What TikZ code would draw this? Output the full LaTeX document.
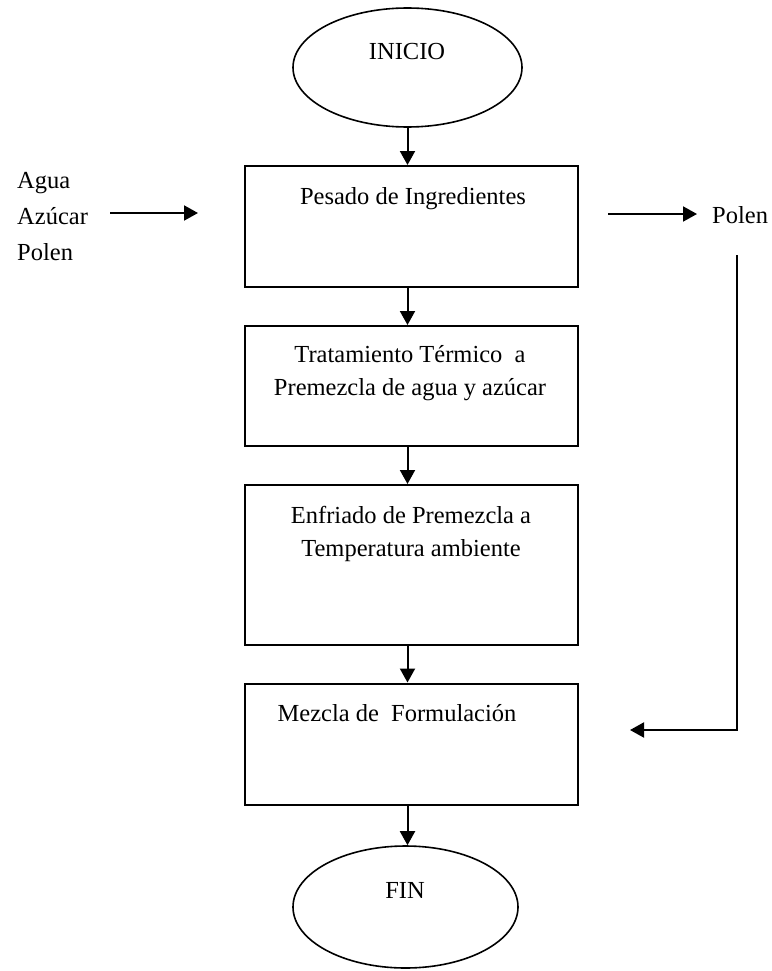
\documentclass[tikz,border=0pt]{standalone}
\usepackage{fontspec}
\setmainfont{Liberation Serif}
\usepackage{tikz}
\usetikzlibrary{shapes.geometric,arrows.meta}

\begin{document}
\begin{tikzpicture}[x=1pt,y=-1pt,
			every node/.style={font=\fontsize{24.5}{33}\selectfont},
			terminal/.style={ellipse,draw,line width=1.6pt,minimum width=229pt,minimum height=119pt,inner sep=0pt},
			proceso/.style={rectangle,draw,line width=2pt,minimum width=333pt,inner sep=0pt},
			texto/.style={anchor=base,align=center,inner sep=0pt},
			flecha/.style={line width=2pt,-{Triangle[length=14pt,width=15pt]}}]
		\useasboundingbox (0,0) rectangle (771,971);
		% etapas
		\node[terminal] (inicio) at (407.5,67.5) {};
		\node[proceso,minimum height=121pt] (pesado) at (411.5,226.5) {};
		\node[proceso,minimum height=120pt] (termico) at (411.5,386) {};
		\node[proceso,minimum height=160pt] (enfriado) at (411.5,565) {};
		\node[proceso,minimum height=121pt] (mezcla) at (411.5,744) {};
		\node[terminal,minimum width=225pt,minimum height=122pt] (fin) at (405.5,907) {};
		% textos (base = ultima linea)
		\node[texto] (tinicio) at (407,60) {INICIO};
		\node[texto] (tpesado) at (413,204) {Pesado de Ingredientes};
		\node[texto] (ttermico) at (410,395) {Tratamiento Térmico\ \ a\\Premezcla de agua y azúcar};
		\node[texto] (tenfriado) at (411,556) {Enfriado de Premezcla a\\Temperatura ambiente};
		\node[texto] (tmezcla) at (397,721) {Mezcla de\ \ Formulación};
		\node[texto] (tfin) at (405,898) {FIN};
		\node[texto,align=left,anchor=base west,font=\fontsize{24.5}{36}\selectfont] (entrada) at (17,260) {Agua\\Azúcar\\Polen};
		\node[texto,anchor=base west] (polen) at (712,223) {Polen};
		% flujo principal
		\draw[flecha] (inicio.south) -- (inicio.south |- pesado.north);
		\draw[flecha] (pesado.south -| inicio) -- (termico.north -| inicio);
		\draw[flecha] (termico.south -| inicio) -- (enfriado.north -| inicio);
		\draw[flecha] (enfriado.south -| inicio) -- (mezcla.north -| inicio);
		\draw[flecha] (mezcla.south -| inicio) -- (fin.north -| inicio);
		% entradas y salidas
		\coordinate (e1) at (110,213);
		\coordinate (e2) at (198,213);
		\coordinate (s1) at (608,214);
		\coordinate (s2) at (697,214);
		\coordinate (r1) at (737,255);
		\coordinate (r2) at (630,730);
		\draw[flecha] (e1) -- (e2);
		\draw[flecha] (s1) -- (s2);
		\draw[flecha] (r1) |- (r2);
\end{tikzpicture}
\end{document}
